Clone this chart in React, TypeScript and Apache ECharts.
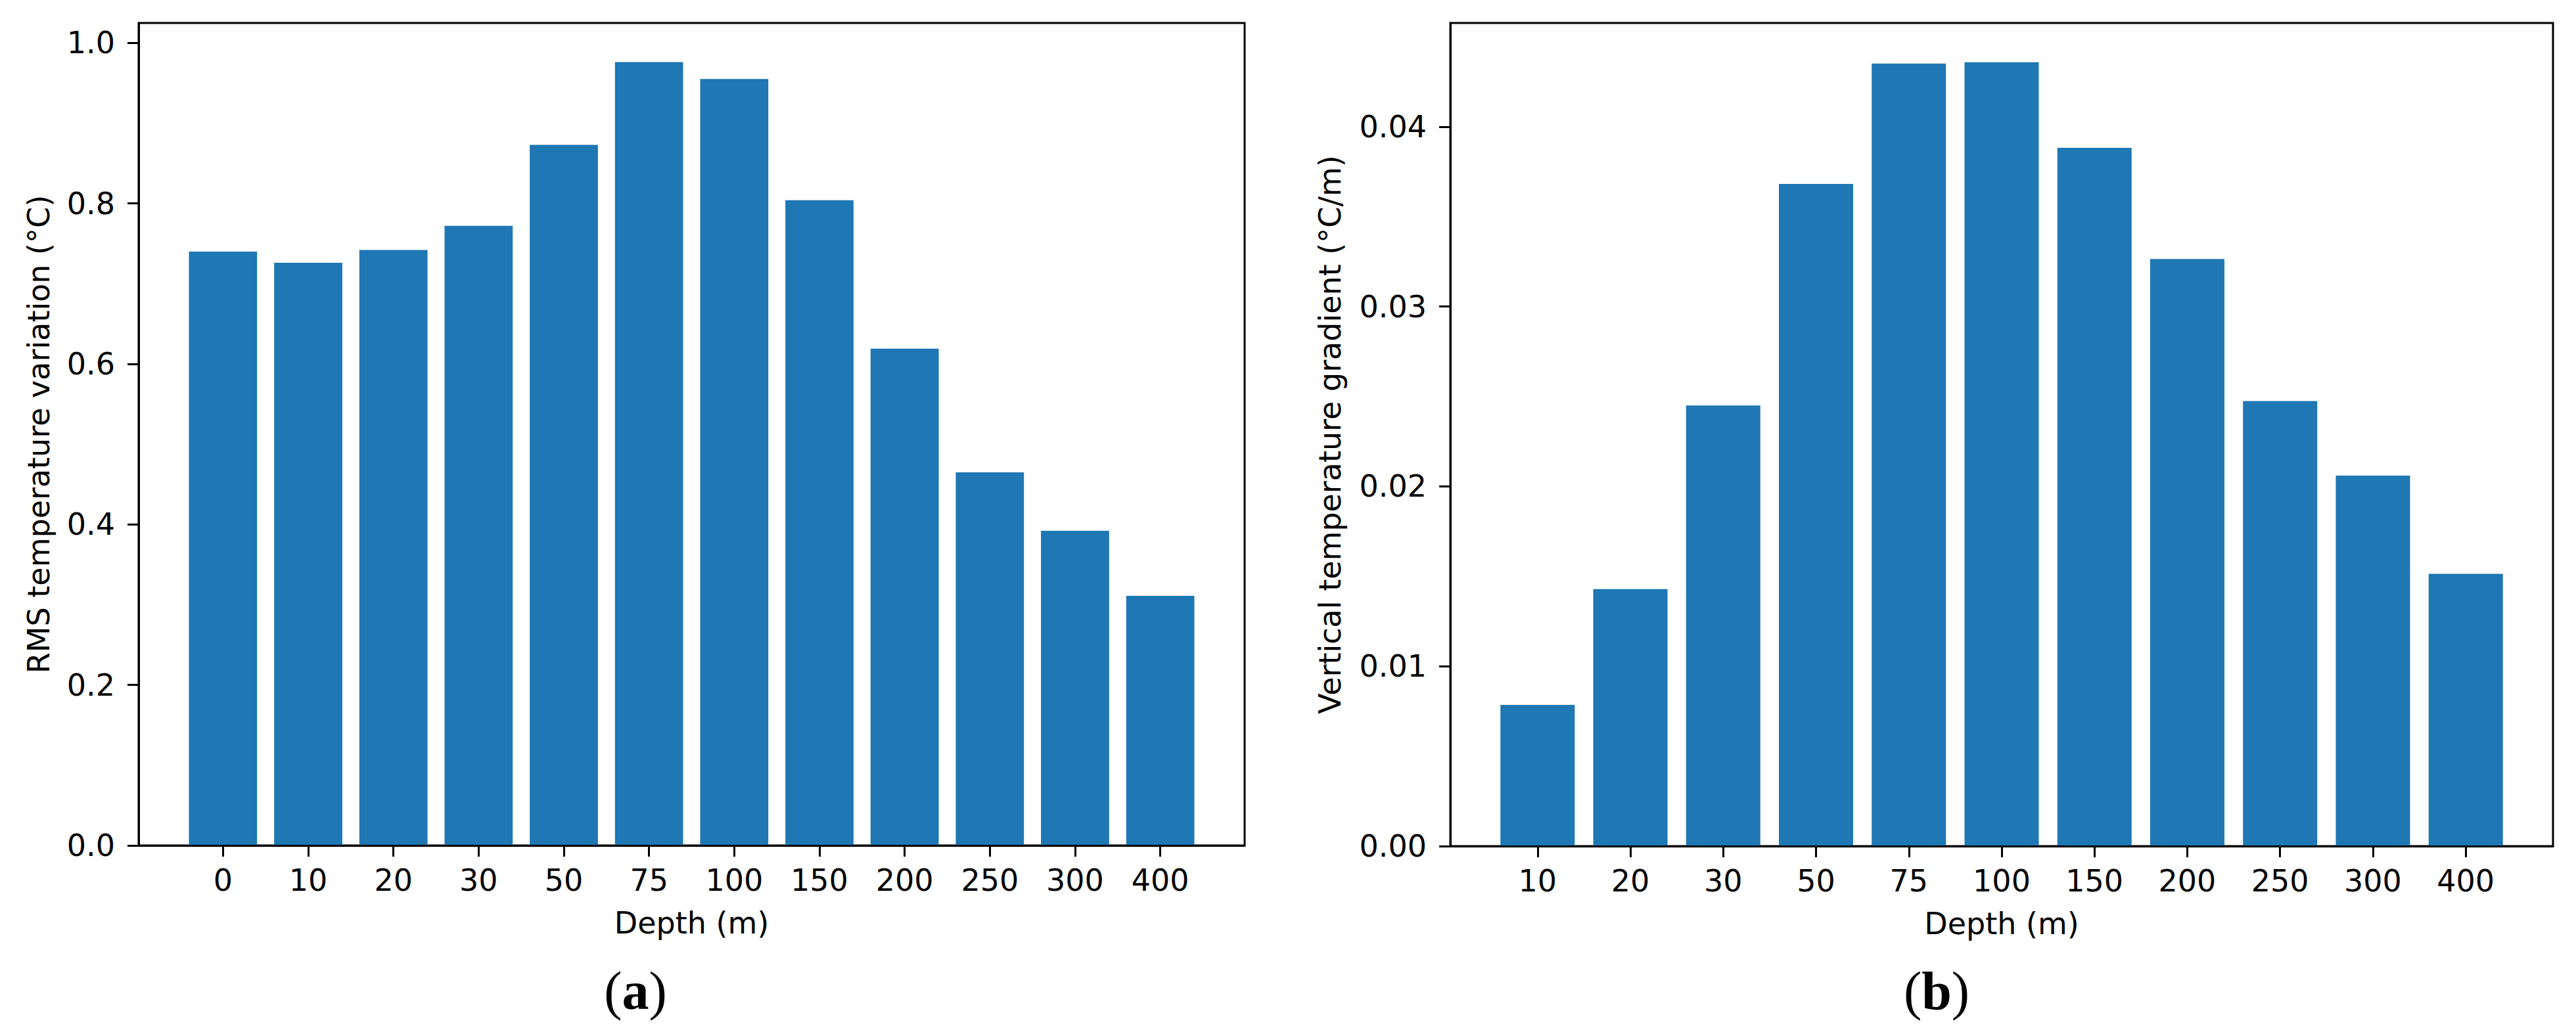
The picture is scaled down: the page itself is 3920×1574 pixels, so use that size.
import React, { useEffect, useRef } from "react";
import * as echarts from "echarts";

const depthsA = ["0", "10", "20", "30", "50", "75", "100", "150", "200", "250", "300", "400"];
const rmsValues = [0.740, 0.726, 0.742, 0.772, 0.873, 0.976, 0.955, 0.804, 0.619, 0.465, 0.392, 0.311];
const yTicksA = [0, 0.2, 0.4, 0.6, 0.8, 1.0];

const depthsB = ["10", "20", "30", "50", "75", "100", "150", "200", "250", "300", "400"];
const gradValues = [0.00785, 0.01429, 0.02450, 0.03682, 0.04351, 0.04359, 0.03883, 0.03265, 0.02475, 0.02060, 0.01514];
const yTicksB = [0, 0.01, 0.02, 0.03, 0.04];

const FONT = "DejaVu Sans";
const BAR = "#1f77b4";

const gridA = { left: 211, top: 35, width: 1683, height: 1252 };
const gridB = { left: 2207, top: 35, width: 1678, height: 1253 };

function xLimits(n: number) {
  const lo = -0.4, hi = n - 1 + 0.4;
  const m = (hi - lo) * 0.05;
  return [lo - m, hi + m];
}

export default function App() {
  const ref = useRef<HTMLDivElement>(null);
  useEffect(() => {
    if (!ref.current) return;
    const chart = echarts.init(ref.current, undefined, { renderer: "svg" });
    const [xa0, xa1] = xLimits(depthsA.length);
    const [xb0, xb1] = xLimits(depthsB.length);
    const bwA = (0.8 * gridA.width) / (xa1 - xa0);
    const bwB = (0.8 * gridB.width) / (xb1 - xb0);
    const yMaxA = Math.max(...rmsValues) * 1.05;
    const yMaxB = Math.max(...gradValues) * 1.05;

    const text = { fontFamily: FONT, fontSize: 46, color: "#000" };
    const lineStyle = { color: "#000", width: 3 };

    const xAxisCommon = (labels: string[], min: number, max: number, gridIndex: number) => ({
      type: "value",
      gridIndex,
      min,
      max,
      z: 10,
      name: "Depth (m)",
      nameLocation: "middle",
      nameGap: 95,
      nameTextStyle: text,
      axisLine: { show: true, onZero: false, lineStyle },
      axisTick: { show: true, length: 17, lineStyle, customValues: labels.map((_, i) => i) },
      axisLabel: {
        ...text,
        margin: 30,
        customValues: labels.map((_, i) => i),
        formatter: (v: number) => labels[Math.round(v)] ?? "",
      },
      splitLine: { show: false },
    });

    const yAxisCommon = (name: string, ticks: number[], max: number, digits: number, gap: number, gridIndex: number) => ({
      type: "value",
      gridIndex,
      min: 0,
      max,
      z: 10,
      name,
      nameLocation: "middle",
      nameRotate: 90,
      nameGap: gap,
      nameTextStyle: text,
      axisLine: { show: true, onZero: false, lineStyle },
      axisTick: { show: true, length: 17, lineStyle, customValues: ticks },
      axisLabel: {
        ...text,
        margin: 36,
        customValues: ticks,
        formatter: (v: number) => v.toFixed(digits),
      },
      splitLine: { show: false },
    });

    const caption = (letter: string, x: number) => ({
      type: "text",
      x,
      y: 1508,
      style: {
        text: `{n|(}{b|${letter}}{n|)}`,
        align: "center",
        verticalAlign: "middle",
        rich: {
          n: { fontFamily: "Liberation Serif", fontSize: 82, color: "#000" },
          b: { fontFamily: "Liberation Serif", fontSize: 82, fontWeight: "bold", color: "#000" },
        },
      },
    });

    chart.setOption({
      animation: false,
      backgroundColor: "#fff",
      grid: [
        { ...gridA, show: true, borderColor: "#000", borderWidth: 3, containLabel: false },
        { ...gridB, show: true, borderColor: "#000", borderWidth: 3, containLabel: false },
      ],
      xAxis: [xAxisCommon(depthsA, xa0, xa1, 0), xAxisCommon(depthsB, xb0, xb1, 1)],
      yAxis: [
        yAxisCommon("RMS temperature variation (°C)", yTicksA, yMaxA, 1, 129, 0),
        yAxisCommon("Vertical temperature gradient (°C/m)", yTicksB, yMaxB, 2, 160, 1),
      ],
      series: [
        {
          type: "bar",
          xAxisIndex: 0,
          yAxisIndex: 0,
          barWidth: bwA,
          itemStyle: { color: BAR },
          data: rmsValues.map((v, i) => [i, v]),
        },
        {
          type: "bar",
          xAxisIndex: 1,
          yAxisIndex: 1,
          barWidth: bwB,
          itemStyle: { color: BAR },
          data: gradValues.map((v, i) => [i, v]),
        },
      ],
      graphic: [caption("a", 967), caption("b", 2947)],
    });
    return () => chart.dispose();
  }, []);
  return (
    <div
      ref={ref}
      style={{ position: "fixed", left: 0, top: 0, width: 3920, height: 1574, background: "#fff" }}
    />
  );
}
